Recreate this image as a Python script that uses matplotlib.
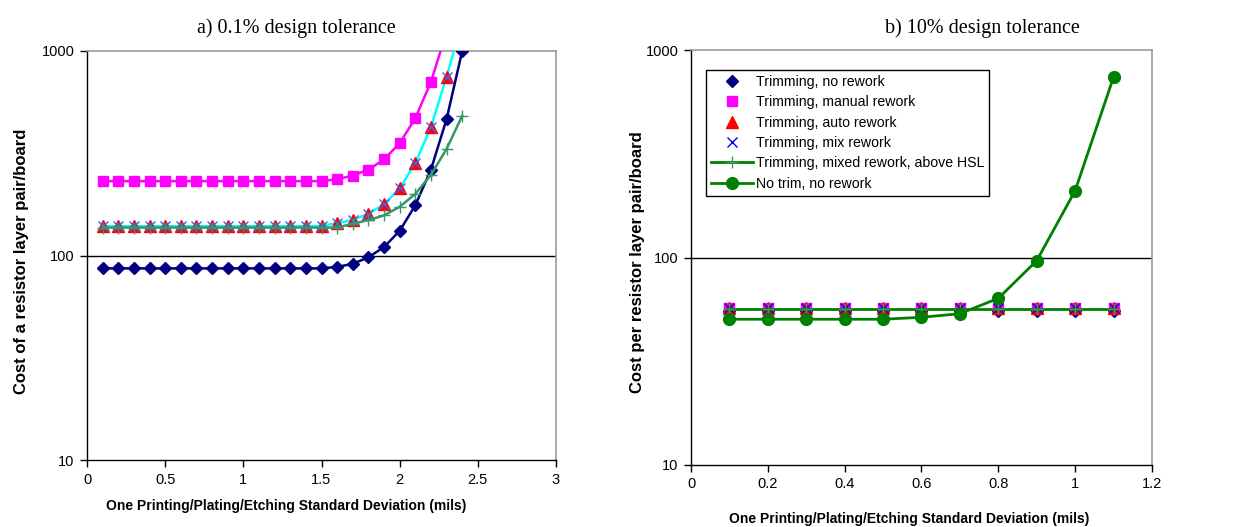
import numpy as np
import matplotlib
matplotlib.use("Agg")
import matplotlib.pyplot as plt
from matplotlib.lines import Line2D

plt.rcParams["font.family"] = ["Liberation Sans", "DejaVu Sans"]

# ---- a) 0.1% design tolerance ----
sigma_a = [0.1, 0.2, 0.3, 0.4, 0.5, 0.6, 0.7, 0.8, 0.9, 1.0, 1.1, 1.2,
           1.3, 1.4, 1.5, 1.6, 1.7, 1.8, 1.9, 2.0, 2.1, 2.2, 2.3, 2.4]
no_rework_a = [86.5] * 15 + [88, 91, 98, 110, 132, 176, 263, 464, 1000]
manual_rework_a = [231] * 15 + [236, 246, 263, 295, 354, 469, 706, 1240, np.nan]
auto_rework_a = [139] * 14 + [139.5, 144, 149, 160, 178, 213, 283, 424, 750, 1380]
mix_rework_a = [139] * 14 + [139.5, 144, 149, 160, 178, 213, 283, 424, 750, 1380]
mix_hsl_a = [137] * 16 + [143, 149, 157, 173, 200, 248, 332, 482]

# ---- b) 10% design tolerance ----
sigma_b = [0.1, 0.2, 0.3, 0.4, 0.5, 0.6, 0.7, 0.8, 0.9, 1.0, 1.1]
no_rework_b = [55.5] * 11
manual_rework_b = [56.8] * 11
auto_rework_b = [56.8] * 11
mix_rework_b = [56.8] * 11
mix_hsl_b = [56.7] * 11
no_trim_b = [50.4, 50.4, 50.4, 50.4, 50.4, 51.5, 53.6, 63.6, 96.6, 210, 741]

labels = ["Trimming, no rework", "Trimming, manual rework",
          "Trimming, auto rework", "Trimming, mix rework",
          "Trimming, mixed rework, above HSL", "No trim, no rework"]

NAVY = "#000080"
MAGENTA = "#FF00FF"
RED = "#FF0000"
CYAN = "#00FFFF"
BLUE = "#3366FF"
SEAGREEN = "#339966"
GREEN = "#008000"

fig = plt.figure(figsize=(12.55, 5.27), dpi=100)
W, H = 1255, 527


def add_axes_px(x0, x1, y0, y1):
    return fig.add_axes([x0 / W, 1 - y1 / H, (x1 - x0) / W, (y1 - y0) / H])


def style_axes(ax, xmax, xstep):
    ax.set_yscale("log")
    ax.set_ylim(10, 1000)
    ax.set_xlim(0, xmax)
    ax.set_xticks(np.arange(0, xmax + 1e-9, xstep))
    ax.set_yticks([10, 100, 1000])
    ax.set_yticklabels(["10", "100", "1000"])
    ax.yaxis.set_minor_locator(matplotlib.ticker.NullLocator())
    ax.tick_params(axis="both", direction="out", length=5, width=1,
                   labelsize=10.5, colors="black", pad=4)
    for side in ("left", "bottom"):
        ax.spines[side].set_color("black")
        ax.spines[side].set_linewidth(1.0)
    for side in ("top", "right"):
        ax.spines[side].set_color("#999999")
        ax.spines[side].set_linewidth(1.2)
    ax.axhline(100, color="black", lw=1.0, zorder=1)


# Left panel
axa = add_axes_px(87, 556, 51, 460)
style_axes(axa, 3, 0.5)
axa.set_xticklabels(["0", "0.5", "1", "1.5", "2", "2.5", "3"])
axa.plot(sigma_a, no_rework_a, color=NAVY, lw=1.8, marker="D", ms=6.5,
         mfc=NAVY, mec=NAVY, zorder=3)
axa.plot(sigma_a, manual_rework_a, color=MAGENTA, lw=1.8, marker="s", ms=7.5,
         mfc=MAGENTA, mec=MAGENTA, zorder=3)
axa.plot(sigma_a, auto_rework_a, color=CYAN, lw=1.8, marker="^", ms=8,
         mfc=RED, mec=RED, zorder=3)
axa.plot(sigma_a, mix_rework_a, ls="none", marker="x", ms=7, mew=1.0,
         color=BLUE, zorder=4)
axa.plot(sigma_a, mix_hsl_a, color=SEAGREEN, lw=1.8, marker="+", ms=9,
         mew=1.0, zorder=5)

# Right panel
axb = add_axes_px(691, 1152, 50, 465)
style_axes(axb, 1.2, 0.2)
axb.set_xticklabels(["0", "0.2", "0.4", "0.6", "0.8", "1", "1.2"])
axb.plot(sigma_b, no_rework_b, ls="none", marker="D", ms=6.5,
         color=NAVY, zorder=3)
axb.plot(sigma_b, manual_rework_b, ls="none", marker="s", ms=7.5,
         color=MAGENTA, zorder=3)
axb.plot(sigma_b, auto_rework_b, ls="none", marker="^", ms=8,
         color=RED, zorder=3)
axb.plot(sigma_b, mix_rework_b, ls="none", marker="x", ms=7, mew=1.0,
         color="#0000FF", zorder=4)
axb.plot(sigma_b, mix_hsl_b, color=GREEN, lw=2.0, marker="+", ms=9,
         mew=1.0, mec=SEAGREEN, zorder=5)
axb.plot(sigma_b, no_trim_b, color=GREEN, lw=2.0, marker="o", ms=8.5,
         mfc=GREEN, mec=GREEN, zorder=6)

handles = [
    Line2D([], [], ls="none", marker="D", ms=6.5, color=NAVY),
    Line2D([], [], ls="none", marker="s", ms=7.5, color=MAGENTA),
    Line2D([], [], ls="none", marker="^", ms=8, color=RED),
    Line2D([], [], ls="none", marker="x", ms=7, mew=1.0, color="#0000FF"),
    Line2D([], [], color=GREEN, lw=2.0, marker="+", ms=9, mew=1.0,
           mec=SEAGREEN),
    Line2D([], [], color=GREEN, lw=2.0, marker="o", ms=8.5),
]
leg = axb.legend(handles, labels, loc="upper left",
                 bbox_to_anchor=(706 / W, 1 - 70 / H),
                 bbox_transform=fig.transFigure, fontsize=10.2,
                 frameon=True, fancybox=False, edgecolor="black",
                 framealpha=1, handlelength=3.0, handletextpad=0.15,
                 labelspacing=0.45, borderpad=0.35, borderaxespad=0)
leg.get_frame().set_linewidth(1.0)

# Titles and axis labels
fig.text(296 / W, 1 - 28 / H, "a) 0.1% design tolerance",
         family=["Liberation Serif", "DejaVu Serif"], fontsize=14.5,
         ha="center", va="center")
fig.text(982 / W, 1 - 28 / H, "b) 10% design tolerance",
         family=["Liberation Serif", "DejaVu Serif"], fontsize=14.5,
         ha="center", va="center")
fig.text(286 / W, 1 - 506 / H,
         "One Printing/Plating/Etching Standard Deviation (mils)",
         fontsize=10, fontweight="bold", ha="center", va="center")
fig.text(909 / W, 1 - 519 / H,
         "One Printing/Plating/Etching Standard Deviation (mils)",
         fontsize=10, fontweight="bold", ha="center", va="center")
fig.text(22 / W, 1 - 261 / H, "Cost of a resistor layer pair/board",
         fontsize=12, fontweight="bold", ha="center", va="center",
         rotation=90)
fig.text(638 / W, 1 - 262 / H, "Cost per resistor layer pair/board",
         fontsize=12, fontweight="bold", ha="center", va="center",
         rotation=90)

fig.savefig("out.png", dpi=100, facecolor="white")
